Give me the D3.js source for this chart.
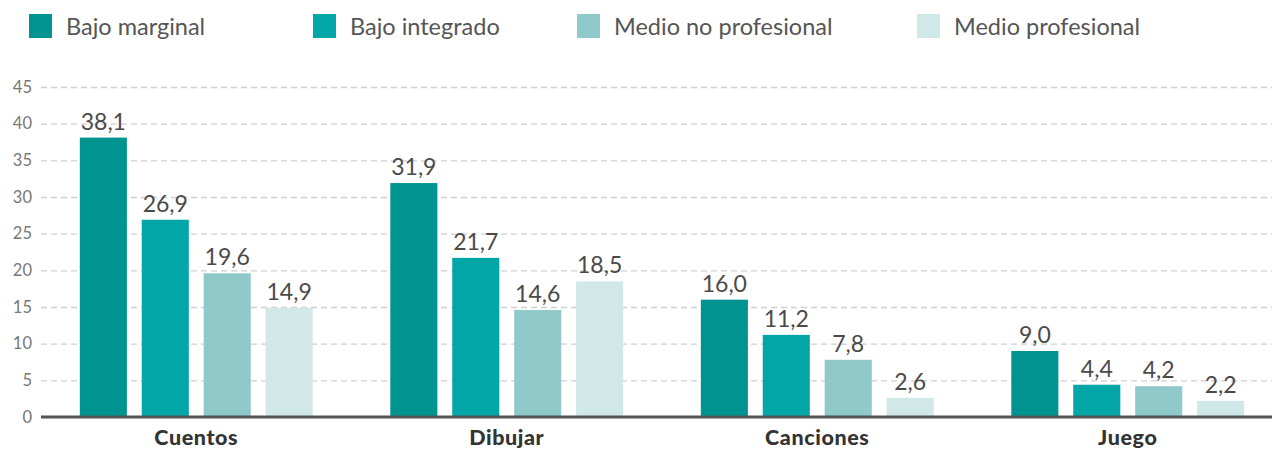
<!DOCTYPE html>
<html>
<head>
<meta charset="utf-8">
<script src="https://cdn.jsdelivr.net/npm/d3@7"></script>
<style>
  body { margin: 0; background: #fff; }
  svg { display: block; font-family: Lato, "Open Sans", sans-serif; }
</style>
</head>
<body>
<div id="chart"></div>
<script>
const width = 1272
const height = 449

const categories = ["Cuentos", "Dibujar", "Canciones", "Juego"]
const seriesNames = ["Bajo marginal", "Bajo integrado", "Medio no profesional", "Medio profesional"]
const bajoMarginal = [38.1, 31.9, 16.0, 9.0]
const bajoIntegrado = [26.9, 21.7, 11.2, 4.4]
const medioNoProfesional = [19.6, 14.6, 7.8, 4.2]
const medioProfesional = [14.9, 18.5, 2.6, 2.2]
const yTicks = [0, 5, 10, 15, 20, 25, 30, 35, 40, 45]
const colors = ["#009490", "#02a6a6", "#8fc9c9", "#d1e8e8"]

const series = [bajoMarginal, bajoIntegrado, medioNoProfesional, medioProfesional]
const rows = categories.map((c, i) => ({
  cat: c,
  vals: series.map((s, j) => ({ key: seriesNames[j], value: s[i] }))
}))

const margin = { top: 87, left: 41, bottom: 32 }

const svg = d3.select("#chart")
  .append("svg")
  .attr("width", width)
  .attr("height", height)

const y = d3.scaleLinear()
  .domain([0, 45])
  .range([height - margin.bottom, margin.top])

const x0 = d3.scaleBand()
  .domain(categories)
  .range([margin.left, margin.left + 1242])
  .paddingInner(0.25)
  .paddingOuter(0.125)

const x1 = d3.scaleBand()
  .domain(seriesNames)
  .range([0, x0.bandwidth()])
  .paddingInner(0.24)

const color = d3.scaleOrdinal().domain(seriesNames).range(colors)

// grid + y labels
const yAxis = svg.append("g")
  .attr("transform", `translate(${margin.left},0)`)
  .call(d3.axisLeft(y).tickValues(yTicks).tickSize(-(width - margin.left)).tickPadding(9))

yAxis.select(".domain").remove()
yAxis.selectAll(".tick line")
  .attr("stroke", "#cfcfcf")
  .attr("stroke-width", 1.3)
  .attr("stroke-dasharray", "6,4")
yAxis.selectAll(".tick").filter(d => d === 0).select("line").remove()
yAxis.selectAll(".tick text")
  .attr("fill", "#777")
  .style("font-size", "16.5px")
  .style("font-family", "Lato, sans-serif")

// bars
const groups = svg.append("g")
  .selectAll("g")
  .data(rows)
  .join("g")
  .attr("transform", d => `translate(${x0(d.cat)},0)`)

groups.selectAll("rect")
  .data(d => d.vals)
  .join("rect")
  .attr("x", d => x1(d.key))
  .attr("y", d => y(d.value))
  .attr("width", x1.bandwidth())
  .attr("height", d => y(0) - y(d.value))
  .attr("fill", d => color(d.key))

groups.selectAll("text.val")
  .data(d => d.vals)
  .join("text")
  .attr("class", "val")
  .attr("x", d => x1(d.key) + x1.bandwidth() / 2)
  .attr("y", d => y(d.value) - 8)
  .attr("text-anchor", "middle")
  .attr("fill", "#4a4a4a")
  .style("font-size", "23px")
  .text(d => d3.format(".1f")(d.value).replace(".", ","))

// x axis
const xAxis = svg.append("g")
  .attr("transform", `translate(0,${y(0)})`)
  .call(d3.axisBottom(x0).tickSize(0).tickPadding(13))

xAxis.select(".domain")
  .attr("stroke", "#555")
  .attr("stroke-width", 3)
  .attr("d", `M${margin.left},0H${width}`)
xAxis.selectAll(".tick text")
  .attr("fill", "#333")
  .style("font-size", "21.5px")
  .style("letter-spacing", "0.6px")
  .style("font-weight", "900")
  .style("font-family", "Lato, sans-serif")

// legend
const legendX = [29, 313, 577, 917]
const legend = svg.append("g")
  .selectAll("g")
  .data(seriesNames)
  .join("g")
  .attr("transform", (d, i) => `translate(${legendX[i]},14)`)

legend.append("rect")
  .attr("width", 23)
  .attr("height", 24)
  .attr("fill", d => color(d))

legend.append("text")
  .attr("x", 37)
  .attr("y", 21)
  .attr("fill", "#555")
  .style("font-size", "23.5px")
  .text(d => d)
</script>
</body>
</html>
